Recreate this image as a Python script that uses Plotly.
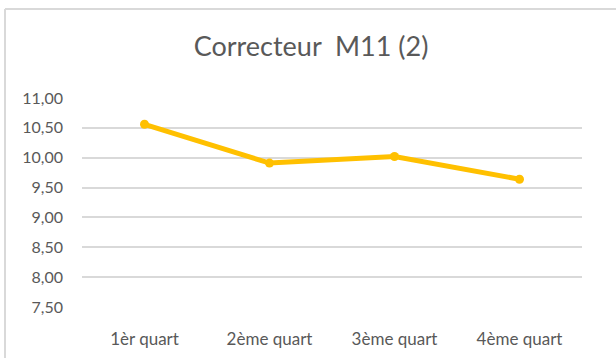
import plotly.graph_objects as go

# Scores moyens par quart
quarts = ["1èr quart", "2ème quart", "3ème quart", "4ème quart"]
moyennes = [10.56, 9.91, 10.02, 9.64]
y_ticks = [7.5, 8.0, 8.5, 9.0, 9.5, 10.0, 10.5, 11.0]

W, H = 616, 361
L, R, T, B = 82, 34, 98, 51.5
plot_w = W - L - R
plot_h = H - T - B


def px_to_paper(px, py):
    return (px - L) / plot_w, (H - B - py) / plot_h


fig = go.Figure()
fig.add_trace(go.Scatter(
    x=quarts, y=moyennes, mode="lines+markers",
    line=dict(color="#FFC000", width=5),
    marker=dict(color="#FFC000", size=9),
    showlegend=False, cliponaxis=False,
))

# Cadre du graphique (bord supérieur et gauche)
x0, y0 = px_to_paper(5, 8)
x1, y1 = px_to_paper(W, H)
fig.add_shape(type="line", xref="paper", yref="paper", x0=x0, y0=y0, x1=x1, y1=y0,
              line=dict(color="#d9d9d9", width=2))
fig.add_shape(type="line", xref="paper", yref="paper", x0=x0, y0=y0, x1=x0, y1=y1,
              line=dict(color="#d9d9d9", width=2))

font_family = "Lato, 'Open Sans', sans-serif"
fig.update_layout(
    width=W, height=H,
    margin=dict(l=L, r=R, t=T, b=B),
    paper_bgcolor="white", plot_bgcolor="white",
    separators=", ",
    title=dict(text="Correcteur  M11 (2)", x=311 / W, xanchor="center",
               y=1 - 47 / H, yanchor="middle",
               font=dict(family=font_family, size=27, color="#595959")),
    font=dict(family=font_family, color="#595959", size=16),
    xaxis=dict(range=[-0.5, 3.5], showgrid=False, showline=False, zeroline=False,
               ticks="", ticklabelstandoff=20, tickfont=dict(size=17)),
    yaxis=dict(range=[7.5, 11], tickvals=y_ticks, tickformat=".2f",
               showgrid=True, gridcolor="#d9d9d9", gridwidth=2,
               zeroline=False, showline=False, ticks="",
               ticklabelstandoff=18, tickfont=dict(size=16)),
)

fig.write_html("out.html")
